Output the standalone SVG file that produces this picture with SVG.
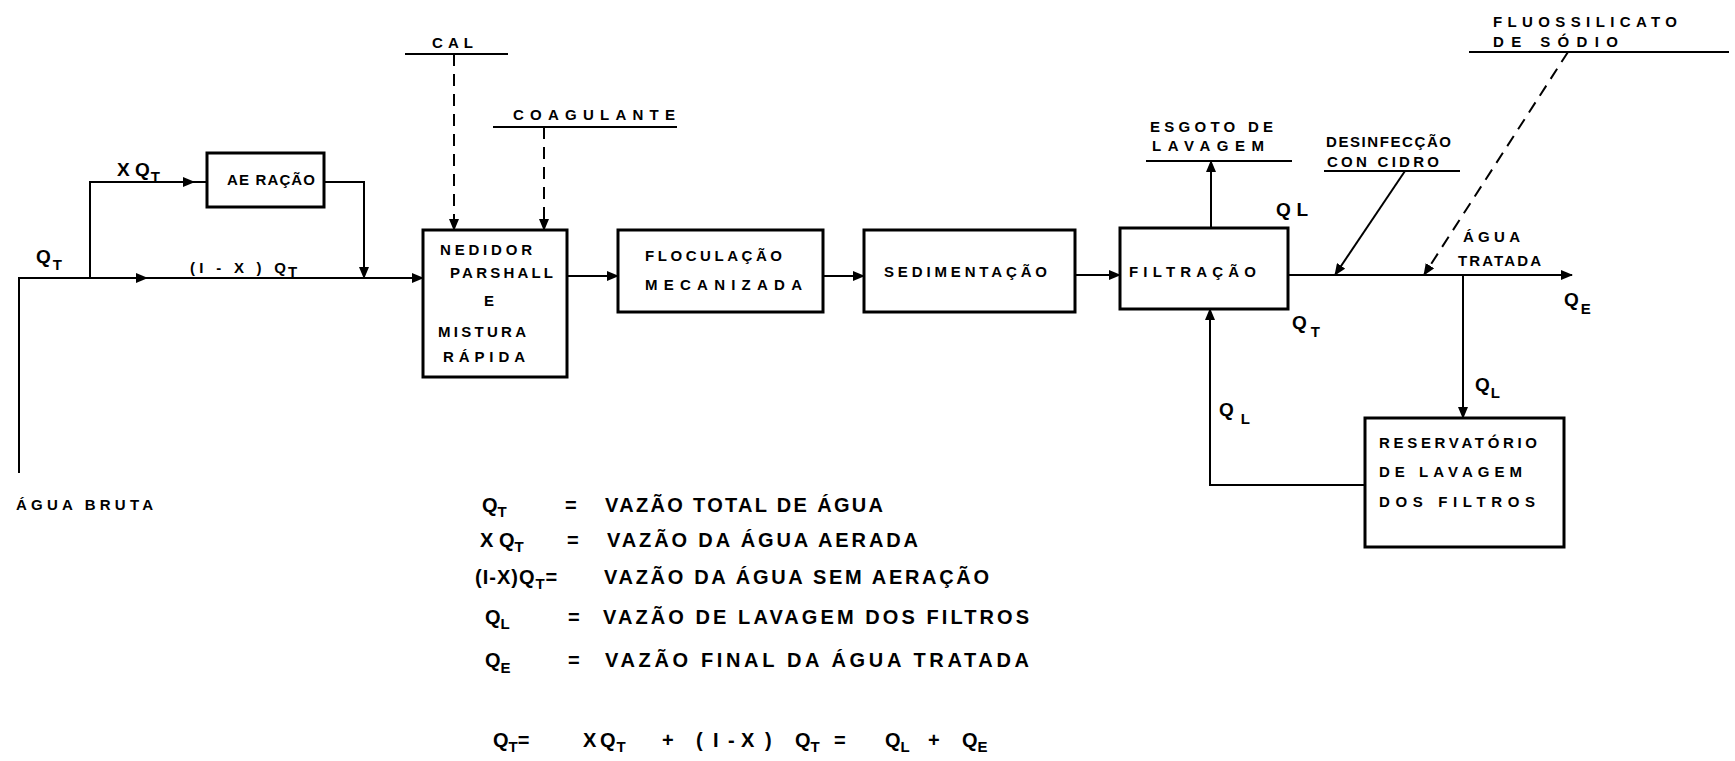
<svg xmlns="http://www.w3.org/2000/svg" width="1735" height="761" viewBox="0 0 1735 761">
<defs>
<marker id="arr" markerUnits="userSpaceOnUse" markerWidth="12" markerHeight="10" refX="11" refY="5" orient="auto">
<path d="M0,0 L12,5 L0,10 Z" fill="#000"/>
</marker>
<style>
.ln{fill:none;stroke:#000;stroke-width:2}
.ds{fill:none;stroke:#000;stroke-width:2;stroke-dasharray:12,8}
.bx{fill:#fff;stroke:#000;stroke-width:3}
text{font-family:"Liberation Sans",Arial,sans-serif;font-weight:bold;fill:#000}
.t{font-size:15px}
.q{font-size:19px}
.s{font-size:15px}
.lg{font-size:20px}
.ls{font-size:15px}
</style>
</defs>
<rect width="1735" height="761" fill="#fff"/>
<g id="connectors">
<path class="ln" d="M19,473 V278 H147" marker-end="url(#arr)"/>
<path class="ln" d="M140,278 H423" marker-end="url(#arr)"/>
<path class="ln" d="M90,278 V182 H194" marker-end="url(#arr)"/>
<path class="ln" d="M190,182 H207"/>
<path class="ln" d="M324,182 H364 V278" marker-end="url(#arr)"/>
<path class="ln" d="M405,54 H508"/>
<path class="ds" d="M454,54 V230" marker-end="url(#arr)"/>
<path class="ln" d="M493,127 H677"/>
<path class="ds" d="M544,127 V230" marker-end="url(#arr)"/>
<path class="ln" d="M567,276 H618" marker-end="url(#arr)"/>
<path class="ln" d="M823,276 H864" marker-end="url(#arr)"/>
<path class="ln" d="M1075,275 H1120" marker-end="url(#arr)"/>
<path class="ln" d="M1288,275 H1572" marker-end="url(#arr)"/>
<path class="ln" d="M1211,228 V161" marker-end="url(#arr)"/>
<path class="ln" d="M1146,161 H1292"/>
<path class="ln" d="M1324,171 H1460"/>
<path class="ln" d="M1405,171 L1335,275" marker-end="url(#arr)"/>
<path class="ln" d="M1469,52 H1729"/>
<path class="ds" d="M1568,52 L1424,275" marker-end="url(#arr)"/>
<path class="ln" d="M1463,275 V418" marker-end="url(#arr)"/>
<path class="ln" d="M1365,485 H1210 V309" marker-end="url(#arr)"/>
</g>
<g id="aeracao">
<rect class="bx" x="207" y="153" width="117" height="54"/>
<text class="t" x="227" y="185" textLength="88" lengthAdjust="spacing">AE RAÇÃO</text>
</g>
<g id="medidor">
<rect class="bx" x="423" y="230" width="144" height="147"/>
<text class="t" x="440" y="255" textLength="92" lengthAdjust="spacing">NEDIDOR</text>
<text class="t" x="450" y="278" textLength="103" lengthAdjust="spacing">PARSHALL</text>
<text class="t" x="484" y="306">E</text>
<text class="t" x="438" y="337" textLength="88" lengthAdjust="spacing">MISTURA</text>
<text class="t" x="443" y="362" textLength="82" lengthAdjust="spacing">RÁPIDA</text>
</g>
<g id="floculacao">
<rect class="bx" x="618" y="230" width="205" height="82"/>
<text class="t" x="645" y="261" textLength="137" lengthAdjust="spacing">FLOCULAÇÃO</text>
<text class="t" x="645" y="290" textLength="157" lengthAdjust="spacing">MECANIZADA</text>
</g>
<g id="sedimentacao">
<rect class="bx" x="864" y="230" width="211" height="82"/>
<text class="t" x="884" y="277" textLength="163" lengthAdjust="spacing">SEDIMENTAÇÃO</text>
</g>
<g id="filtracao">
<rect class="bx" x="1120" y="228" width="168" height="81"/>
<text class="t" x="1129" y="277" textLength="127" lengthAdjust="spacing">FILTRAÇÃO</text>
</g>
<g id="reservatorio">
<rect class="bx" x="1365" y="418" width="199" height="129"/>
<text class="t" x="1379" y="448" textLength="158" lengthAdjust="spacing">RESERVATÓRIO</text>
<text class="t" x="1379" y="477" textLength="143" lengthAdjust="spacing">DE  LAVAGEM</text>
<text class="t" x="1379" y="507" textLength="156" lengthAdjust="spacing">DOS  FILTROS</text>
</g>
<g id="labels">
<text class="q" x="36" y="263">Q<tspan class="s" dx="2" dy="7">T</tspan></text>
<text class="q" x="117" y="176">X Q<tspan class="s" dx="1" dy="6">T</tspan></text>
<text class="t" x="190" y="273" textLength="96" lengthAdjust="spacing">(I - X ) Q</text>
<text class="t" x="288" y="277">T</text>
<text class="t" x="16" y="510" textLength="137" lengthAdjust="spacing">ÁGUA  BRUTA</text>
<text class="t" x="432" y="48" textLength="41" lengthAdjust="spacing">CAL</text>
<text class="t" x="513" y="120" textLength="162" lengthAdjust="spacing">COAGULANTE</text>
<text class="t" x="1150" y="132" textLength="123" lengthAdjust="spacing">ESGOTO  DE</text>
<text class="t" x="1152" y="151" textLength="112" lengthAdjust="spacing">LAVAGEM</text>
<text class="t" x="1326" y="147" textLength="125" lengthAdjust="spacing">DESINFECÇÃO</text>
<text class="t" x="1327" y="167" textLength="112" lengthAdjust="spacing">CON  CIDRO</text>
<text class="t" x="1493" y="27" textLength="184" lengthAdjust="spacing">FLUOSSILICATO</text>
<text class="t" x="1493" y="47" textLength="125" lengthAdjust="spacing">DE    SÓDIO</text>
<text class="t" x="1463" y="242" textLength="57" lengthAdjust="spacing">ÁGUA</text>
<text class="t" x="1458" y="266" textLength="83" lengthAdjust="spacing">TRATADA</text>
<text class="q" x="1276" y="216" textLength="32" lengthAdjust="spacing">QL</text>
<text class="q" x="1292" y="329">Q<tspan class="s" dx="4" dy="8">T</tspan></text>
<text class="q" x="1564" y="306">Q<tspan class="s" dx="2" dy="8">E</tspan></text>
<text class="q" x="1475" y="391">Q<tspan class="s" dx="1" dy="7">L</tspan></text>
<text class="q" x="1219" y="416">Q<tspan class="s" dx="7" dy="8">L</tspan></text>
</g>
<g id="legend">
<text class="lg" x="482" y="512">Q<tspan class="ls" dy="5">T</tspan></text>
<text class="lg" x="565" y="512">=</text>
<text class="lg" x="605" y="512" textLength="278" lengthAdjust="spacing">VAZÃO  TOTAL  DE ÁGUA</text>
<text class="lg" x="480" y="547">X Q<tspan class="ls" dy="5">T</tspan></text>
<text class="lg" x="567" y="547">=</text>
<text class="lg" x="607" y="547" textLength="311" lengthAdjust="spacing">VAZÃO  DA  ÁGUA  AERADA</text>
<text class="lg" x="475" y="584" style="letter-spacing:1px">(I-X)Q<tspan class="ls" dy="5">T</tspan><tspan dy="-5">=</tspan></text>
<text class="lg" x="604" y="584" textLength="385" lengthAdjust="spacing">VAZÃO  DA  ÁGUA  SEM  AERAÇÃO</text>
<text class="lg" x="485" y="624">Q<tspan class="ls" dy="5">L</tspan></text>
<text class="lg" x="568" y="624">=</text>
<text class="lg" x="603" y="624" textLength="426" lengthAdjust="spacing">VAZÃO  DE  LAVAGEM  DOS  FILTROS</text>
<text class="lg" x="485" y="667">Q<tspan class="ls" dy="6">E</tspan></text>
<text class="lg" x="568" y="667">=</text>
<text class="lg" x="605" y="667" textLength="424" lengthAdjust="spacing">VAZÃO FINAL DA  ÁGUA  TRATADA</text>
<text class="lg" x="493" y="747">Q<tspan class="ls" dy="5">T</tspan><tspan dy="-5">=</tspan></text>
<text class="lg" x="583" y="747">X</text>
<text class="lg" x="600" y="747">Q<tspan class="ls" dx="1" dy="5">T</tspan></text>
<text class="lg" x="662" y="747">+</text>
<text class="lg" x="696" y="747">(</text>
<text class="lg" x="713" y="747">I</text>
<text class="lg" x="728" y="747">-</text>
<text class="lg" x="741" y="747">X</text>
<text class="lg" x="765" y="747">)</text>
<text class="lg" x="795" y="747">Q<tspan class="ls" dy="5">T</tspan></text>
<text class="lg" x="834" y="747">=</text>
<text class="lg" x="885" y="747">Q<tspan class="ls" dy="5">L</tspan></text>
<text class="lg" x="928" y="747">+</text>
<text class="lg" x="962" y="747">Q<tspan class="ls" dy="5">E</tspan></text>
</g>
</svg>
